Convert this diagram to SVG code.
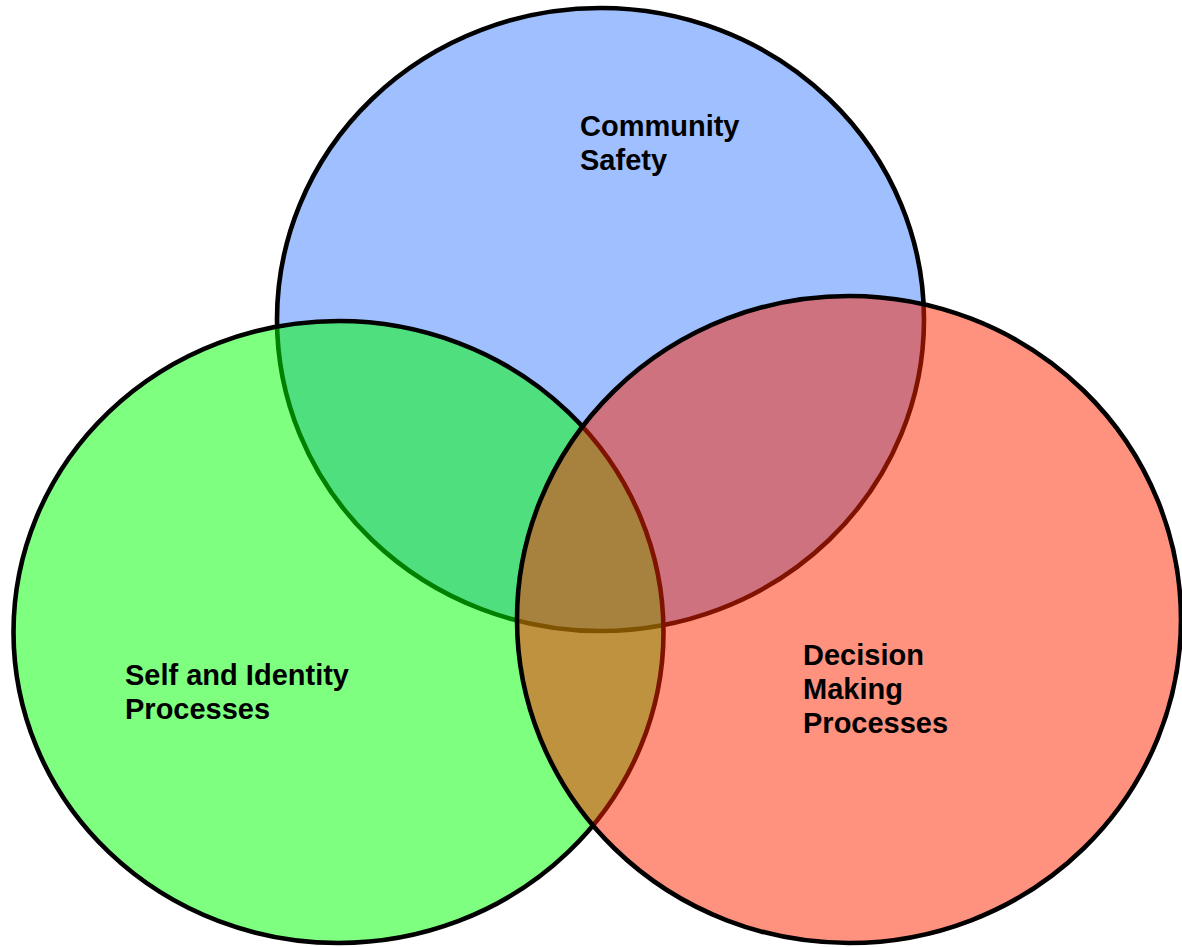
<svg xmlns="http://www.w3.org/2000/svg" width="1182" height="947" viewBox="0 0 1182 947">
  <style>
    .set { stroke: #000; stroke-width: 4.6; fill-opacity: 0.5; }
    .label { font-family: "Liberation Sans", Arial, sans-serif; font-weight: bold; font-size: 29px; fill: #000; }
  </style>
  <rect width="1182" height="947" fill="#fff"/>
  <!-- three translucent sets; later ones tint the outlines beneath -->
  <g id="community-safety">
    <ellipse class="set" cx="600.5" cy="319.5" rx="323.5" ry="311.5" fill="#4080ff"/>
  </g>
  <g id="self-identity">
    <ellipse class="set" cx="338.5" cy="632" rx="325" ry="311" fill="#00ff00"/>
  </g>
  <g id="decision-making">
    <ellipse class="set" cx="849" cy="619.5" rx="332" ry="323.5" fill="#ff2600"/>
  </g>
  <g id="connectors"/>
  <!-- labels -->
  <g id="labels">
    <text class="label" x="580" y="136">Community</text>
    <text class="label" x="580" y="170">Safety</text>
    <text class="label" x="125" y="685">Self and Identity</text>
    <text class="label" x="125" y="719">Processes</text>
    <text class="label" x="803" y="665">Decision</text>
    <text class="label" x="803" y="699">Making</text>
    <text class="label" x="803" y="733">Processes</text>
  </g>
</svg>
